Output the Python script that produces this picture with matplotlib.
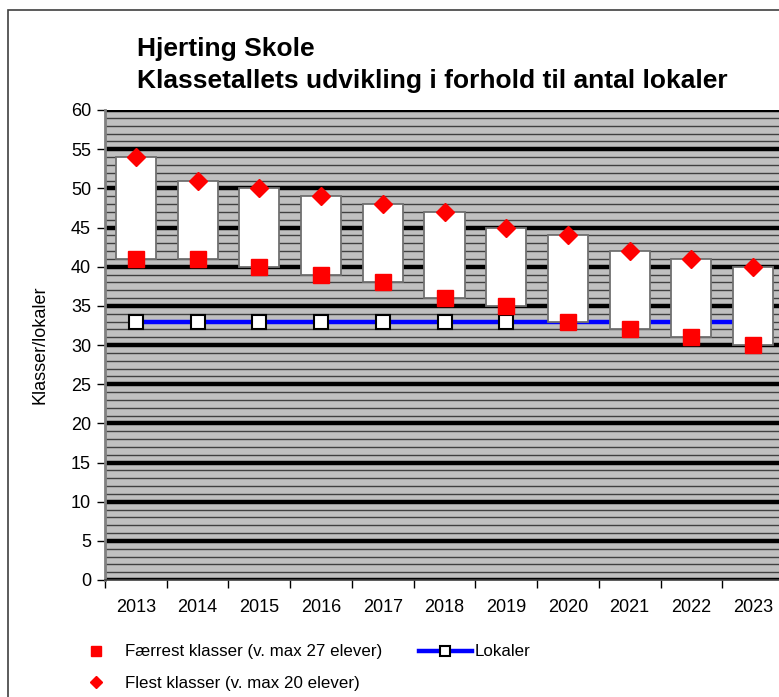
import matplotlib
matplotlib.use('Agg')
import matplotlib.pyplot as plt
from matplotlib.lines import Line2D
from matplotlib.patches import Rectangle

plt.rcParams['font.family'] = ['Liberation Sans', 'DejaVu Sans']

years = ['2013', '2014', '2015', '2016', '2017', '2018', '2019', '2020', '2021', '2022', '2023']
faerrest = [41, 41, 40, 39, 38, 36, 35, 33, 32, 31, 30]   # faerrest klasser (v. max 27 elever)
flest = [54, 51, 50, 49, 48, 47, 45, 44, 42, 41, 40]      # flest klasser (v. max 20 elever)
lokaler = [33, 33, 33, 33, 33, 33, 33, 33, 33, 33, 33]

W, H = 779, 697
fig = plt.figure(figsize=(W / 100, H / 100), dpi=100)

# frame around the chart area (cut off at right/bottom)
fig.patches.append(Rectangle((8 / W, -0.1), 1.2, 1 - 10 / H + 0.1, transform=fig.transFigure,
                             fill=False, edgecolor='#404040', linewidth=1.2))

ax = fig.add_axes([105 / W, (H - 580) / H, 679 / W, 470 / H])
ax.set_facecolor('#c0c0c0')
x = list(range(len(years)))

# grid: thin every 1, thick every 5
for v in range(0, 61):
    if v % 5 == 0:
        ax.axhline(v, color='black', lw=3.2, zorder=1)
    else:
        ax.axhline(v, color='#404040', lw=1.0, zorder=1)

ax.plot(x, lokaler, color='#0000ff', lw=3.2, marker='s', markersize=10,
        markerfacecolor='white', markeredgecolor='black', markeredgewidth=1.5, zorder=2)

heights = [h - l for h, l in zip(flest, faerrest)]
ax.bar(x, heights, bottom=faerrest, width=0.65, color='white', edgecolor='#707070',
       linewidth=1.3, zorder=3)

ax.plot(x, faerrest, 's', color='#ff0000', markersize=11.5, zorder=4, linestyle='none')
ax.plot(x, flest, 'D', color='#ff0000', markersize=9, zorder=4, linestyle='none')

ax.set_xlim(-0.5, len(years) - 0.5)
ax.set_ylim(0, 60)
ax.set_yticks(range(0, 61, 5))
ax.set_xticks(x)
ax.set_xticklabels(years)
ax.set_xticks([i - 0.5 for i in range(len(years) + 1)], minor=True)
ax.tick_params(axis='x', which='major', length=0, labelsize=13, pad=14)
ax.tick_params(axis='x', which='minor', length=6, width=1, direction='out')
ax.tick_params(axis='y', labelsize=13, length=6, width=1, direction='out', pad=4)
for s in ['top', 'right']:
    ax.spines[s].set_visible(False)
ax.spines['left'].set_color('#808080')
ax.spines['left'].set_linewidth(2)
ax.spines['bottom'].set_color('#404040')
ax.spines['bottom'].set_linewidth(1.2)
ax.set_ylabel('Klasser/lokaler', fontsize=13, labelpad=16)

fig.text(137 / W, 1 - 56 / H, 'Hjerting Skole', fontsize=19, fontweight='bold',
         va='baseline', ha='left')
fig.text(137 / W, 1 - 88 / H, 'Klassetallets udvikling i forhold til antal lokaler',
         fontsize=19, fontweight='bold', va='baseline', ha='left')

handles = [
    Line2D([], [], marker='s', color='#ff0000', linestyle='none', markersize=7),
    Line2D([], [], marker='D', color='#ff0000', linestyle='none', markersize=6),
    Line2D([], [], color='#0000ff', lw=3.2, marker='s', markersize=7,
           markerfacecolor='white', markeredgecolor='black', markeredgewidth=1.5),
]
labels = ['Færrest klasser (v. max 27 elever)', 'Flest klasser (v. max 20 elever)', 'Lokaler']
fig.legend(handles, labels, ncol=2, frameon=False, fontsize=12.2, loc='upper left',
           bbox_to_anchor=(61 / W, 1 - 636 / H), borderpad=0, handlelength=3.1,
           handletextpad=0.15, columnspacing=2.2, labelspacing=1.0)

fig.savefig('out.png', dpi=100)
